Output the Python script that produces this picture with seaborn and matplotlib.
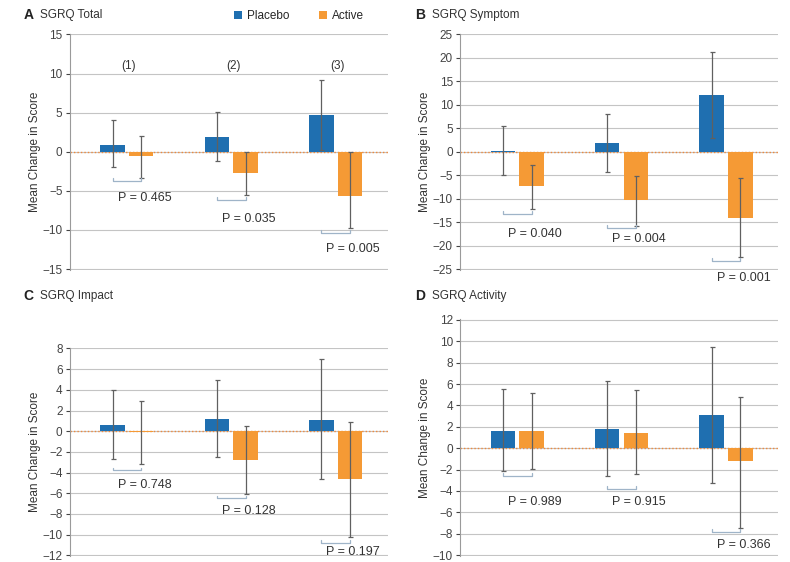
import numpy as np
import pandas as pd
import seaborn as sns
import matplotlib.pyplot as plt

sns.set_theme(style="white")
plt.rcParams['font.family'] = ['Liberation Sans', 'DejaVu Sans']

groups = ["(1)", "(2)", "(3)"]
arms = ["Placebo", "Active"]
palette = {"Placebo": "#1f6fb0", "Active": "#f59a35"}

# --- Panel A: SGRQ Total
total_placebo = [0.9, 1.9, 4.7]
total_active = [-0.5, -2.7, -5.7]
total_placebo_lo = [-2.0, -1.2, 0.2]
total_placebo_hi = [4.0, 5.1, 9.2]
total_active_lo = [-3.3, -5.5, -9.8]
total_active_hi = [2.0, 0.0, 0.0]
total_p = ["P = 0.465", "P = 0.035", "P = 0.005"]
total_bracket_y = [-3.7, -6.2, -10.4]
total_text_y = [-5.9, -8.6, -12.4]

# --- Panel B: SGRQ Symptom
symptom_placebo = [0.2, 1.9, 12.1]
symptom_active = [-7.3, -10.3, -14.1]
symptom_placebo_lo = [-5.0, -4.3, 3.0]
symptom_placebo_hi = [5.5, 8.0, 21.2]
symptom_active_lo = [-12.2, -15.8, -22.5]
symptom_active_hi = [-2.8, -5.2, -5.7]
symptom_p = ["P = 0.040", "P = 0.004", "P = 0.001"]
symptom_bracket_y = [-13.3, -16.3, -23.2]
symptom_text_y = [-17.6, -18.7, -26.8]

# --- Panel C: SGRQ Impact
impact_placebo = [0.6, 1.2, 1.1]
impact_active = [-0.1, -2.8, -4.6]
impact_placebo_lo = [-2.7, -2.5, -4.6]
impact_placebo_hi = [4.0, 5.0, 7.0]
impact_active_lo = [-3.2, -6.1, -10.2]
impact_active_hi = [2.9, 0.5, 0.9]
impact_p = ["P = 0.748", "P = 0.128", "P = 0.197"]
impact_bracket_y = [-3.8, -6.5, -10.8]
impact_text_y = [-5.2, -7.7, -11.7]

# --- Panel D: SGRQ Activity
activity_placebo = [1.6, 1.8, 3.1]
activity_active = [1.6, 1.4, -1.2]
activity_placebo_lo = [-2.1, -2.6, -3.3]
activity_placebo_hi = [5.5, 6.3, 9.5]
activity_active_lo = [-1.9, -2.4, -7.5]
activity_active_hi = [5.2, 5.4, 4.8]
activity_p = ["P = 0.989", "P = 0.915", "P = 0.366"]
activity_bracket_y = [-2.6, -3.8, -7.8]
activity_text_y = [-5.0, -5.0, -9.1]

panels = [
    dict(letter="A", title="SGRQ Total", pos=[0.088, 0.520, 0.403, 0.420],
         ylim=(-15, 15), step=5, pl=total_placebo, ac=total_active,
         pl_lo=total_placebo_lo, pl_hi=total_placebo_hi,
         ac_lo=total_active_lo, ac_hi=total_active_hi,
         p=total_p, by=total_bracket_y, ty=total_text_y, tpos=(0.030, 0.973)),
    dict(letter="B", title="SGRQ Symptom", pos=[0.582, 0.520, 0.403, 0.420],
         ylim=(-25, 25), step=5, pl=symptom_placebo, ac=symptom_active,
         pl_lo=symptom_placebo_lo, pl_hi=symptom_placebo_hi,
         ac_lo=symptom_active_lo, ac_hi=symptom_active_hi,
         p=symptom_p, by=symptom_bracket_y, ty=symptom_text_y, tpos=(0.526, 0.973)),
    dict(letter="C", title="SGRQ Impact", pos=[0.088, 0.011, 0.403, 0.370],
         ylim=(-12, 8), step=2, pl=impact_placebo, ac=impact_active,
         pl_lo=impact_placebo_lo, pl_hi=impact_placebo_hi,
         ac_lo=impact_active_lo, ac_hi=impact_active_hi,
         p=impact_p, by=impact_bracket_y, ty=impact_text_y, tpos=(0.030, 0.474)),
    dict(letter="D", title="SGRQ Activity", pos=[0.582, 0.011, 0.403, 0.421],
         ylim=(-10, 12), step=2, pl=activity_placebo, ac=activity_active,
         pl_lo=activity_placebo_lo, pl_hi=activity_placebo_hi,
         ac_lo=activity_active_lo, ac_hi=activity_active_hi,
         p=activity_p, by=activity_bracket_y, ty=activity_text_y, tpos=(0.526, 0.474)),
]

fig = plt.figure(figsize=(7.9, 5.62), dpi=100)

for i, pn in enumerate(panels):
    ax = fig.add_axes(pn["pos"])
    df = pd.DataFrame({
        "group": groups * 2,
        "arm": ["Placebo"] * 3 + ["Active"] * 3,
        "score": pn["pl"] + pn["ac"],
    })
    sns.barplot(data=df, x="group", y="score", hue="arm", hue_order=arms,
                palette=palette, errorbar=None, width=0.55, gap=0.15,
                saturation=1, linewidth=0, ax=ax, zorder=3, legend=(i == 0))

    lo = {"Placebo": pn["pl_lo"], "Active": pn["ac_lo"]}
    hi = {"Placebo": pn["pl_hi"], "Active": pn["ac_hi"]}
    means = {"Placebo": pn["pl"], "Active": pn["ac"]}
    centers = {}
    for arm, cont in zip(arms, ax.containers):
        xs = np.array([b.get_x() + b.get_width() / 2 for b in cont])
        centers[arm] = xs
        m = np.array(means[arm])
        ax.errorbar(xs, m, yerr=[m - np.array(lo[arm]), np.array(hi[arm]) - m],
                    fmt="none", ecolor="#606060", elinewidth=0.9, capsize=1.8,
                    capthick=0.9, zorder=4)

    ymin, ymax = pn["ylim"]
    d = 0.012 * (ymax - ymin)
    for k in range(3):
        x1, x2 = centers["Placebo"][k], centers["Active"][k]
        y = pn["by"][k]
        ax.plot([x1, x1, x2, x2], [y + d, y, y, y + d], color="#9fb4c8",
                lw=0.9, zorder=4, clip_on=False)
        ax.text(x2 + 0.03, pn["ty"][k], pn["p"][k], ha="center", va="center",
                fontsize=9, color="#333333", clip_on=False)

    ax.axhline(0, color="#f08a3c", lw=1.0, ls=(0, (1, 1.5)), zorder=2)
    pad = 0.003 * (ymax - ymin)
    ax.set_ylim(ymin - pad, ymax + pad)
    ax.set_xlim(-0.55, 2.5)
    ax.set_yticks(np.arange(ymin, ymax + 0.1, pn["step"]))
    ax.yaxis.grid(True, color="#c4c4c4", lw=0.8, zorder=0)
    ax.set_axisbelow(True)
    ax.set_xticks([])
    ax.set_xlabel("")
    ax.set_ylabel("Mean Change in Score", fontsize=8.5, color="#333333", labelpad=1)
    ax.tick_params(axis="y", labelsize=8.5, colors="#444444", length=3,
                   width=0.8, direction="out", left=True, pad=2)
    for s in ["top", "right", "bottom"]:
        ax.spines[s].set_visible(False)
    ax.spines["left"].set_color("#9a9a9a")
    ax.spines["left"].set_linewidth(0.8)

    fig.text(pn["tpos"][0], pn["tpos"][1], pn["letter"], fontsize=10,
             fontweight="bold", color="#222222", va="center")
    fig.text(pn["tpos"][0] + 0.021, pn["tpos"][1], pn["title"], fontsize=8.5,
             color="#333333", va="center")

    if i == 0:
        for k, g in enumerate(groups):
            ax.text(k + 0.02, 10.9, g, ha="center", va="center", fontsize=8.5,
                    color="#333333")
        sns.move_legend(ax, "lower center", bbox_to_anchor=(0.72, 1.0), ncol=2,
                        frameon=False, title=None, fontsize=8.5,
                        handlelength=0.7, handleheight=0.7, handletextpad=0.4,
                        columnspacing=2.5, borderaxespad=0.6)

fig.savefig("out.png", dpi=100)
